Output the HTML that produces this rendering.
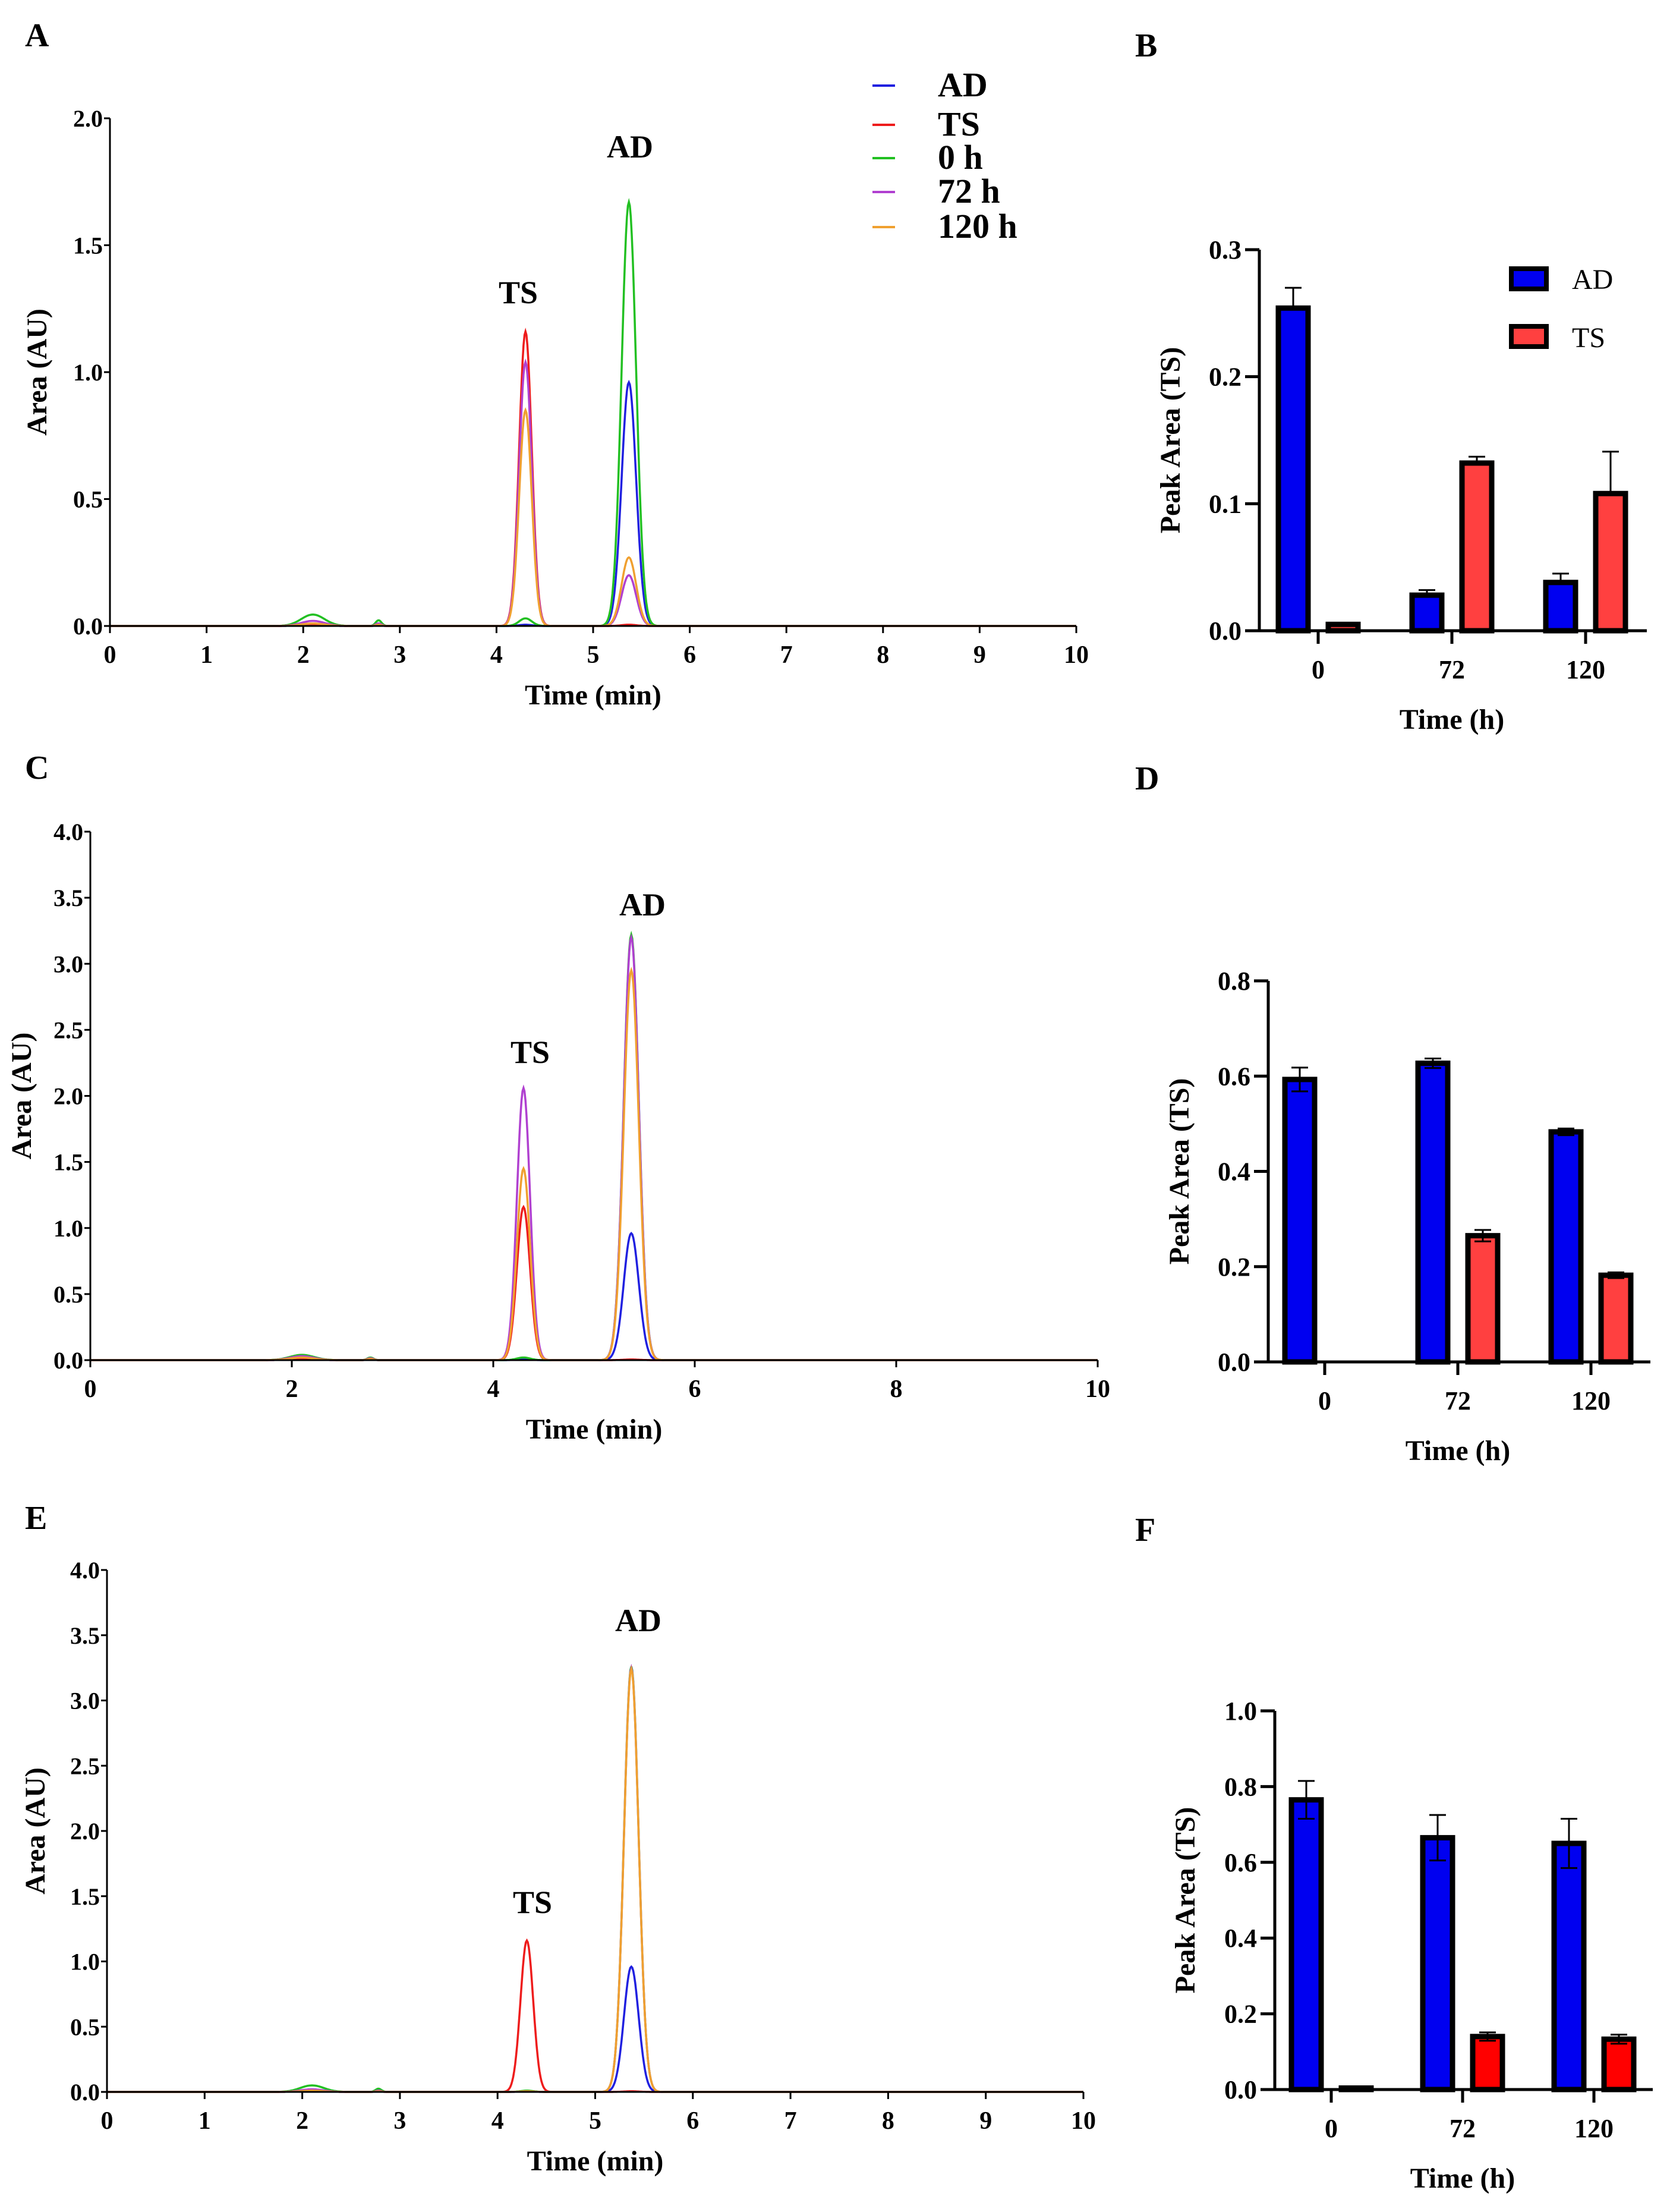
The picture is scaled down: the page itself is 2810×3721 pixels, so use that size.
<!DOCTYPE html>
<html><head><meta charset="utf-8"><style>
html,body{margin:0;padding:0;background:#fff}
svg{display:block}
text{font-family:"Liberation Serif",serif;font-weight:bold;fill:#000}
</style></head><body>
<svg id="fig" width="2810" height="3721" viewBox="0 0 2810 3721" xmlns="http://www.w3.org/2000/svg">
<text x="42" y="78" font-size="56">A</text>
<text x="1910" y="95" font-size="56">B</text>
<text x="42" y="1310" font-size="56">C</text>
<text x="1910" y="1328" font-size="56">D</text>
<text x="42" y="2572" font-size="56">E</text>
<text x="1910" y="2592" font-size="56">F</text>
</svg>
<script>
var NS="http://www.w3.org/2000/svg";
var svg=document.getElementById('fig');
function mk(tag,attrs,parent,txt){var e=document.createElementNS(NS,tag);for(var k in attrs)e.setAttribute(k,attrs[k]);if(txt!==undefined)e.textContent=txt;(parent||svg).appendChild(e);return e;}

// ---------- Chromatogram data ----------
var seriesNames=["AD","TS","0 h","72 h","120 h"];
var seriesColors=["#2020e0","#ee1c1c","#22c022","#b040d0","#f0a030"];
var aTS=[0.005,1.16,0.03,1.04,0.85];
var aAD=[0.96,0.005,1.67,0.20,0.27];
var aBump=[0.005,0.005,0.045,0.02,0.01];
var cTS=[0.005,1.16,0.02,2.06,1.45];
var cAD=[0.96,0.005,3.22,3.20,2.95];
var cBump=[0.01,0.01,0.04,0.03,0.02];
var eTS=[0.005,1.16,0.01,0.005,0.005];
var eAD=[0.96,0.005,3.26,3.25,3.24];
var eBump=[0.01,0.01,0.05,0.02,0.01];
var aTicksX=[0,1,2,3,4,5,6,7,8,9,10];
var cTicksX=[0,2,4,6,8,10];
var aTicksY=[0,0.5,1.0,1.5,2.0];
var cTicksY=[0,0.5,1.0,1.5,2.0,2.5,3.0,3.5,4.0];

function chrom(p){
  var g=mk('g',{});
  
  
  function X(t){return p.x0+(p.x1-p.x0)*t/10;}
  function Y(v){return p.y0-(p.y0-p.y1)*v/p.ymax;}
  for(var s=0;s<5;s++){
    var d="";
    for(var i=0;i<=1000;i++){
      var t=i*0.01;
      var v=p.ts[s]*Math.exp(-Math.pow((t-4.3)/0.065,2)/2)+p.ad[s]*Math.exp(-Math.pow((t-5.37)/0.075,2)/2)+p.bump[s]*Math.exp(-Math.pow((t-2.1)/0.12,2)/2)+p.bump[s]*0.5*Math.exp(-Math.pow((t-2.78)/0.03,2)/2);
      d+=(i?"L":"M")+X(t).toFixed(1)+","+Y(v).toFixed(1);
    }
    var pth=mk('path',{d:d,fill:'none',stroke:seriesColors[s],'stroke-width':3.5},g);
    
    
  }
  var ax=mk('path',{d:'M'+p.x0+','+p.y1+'L'+p.x0+','+p.y0+'L'+p.x1+','+p.y0,fill:'none',stroke:'#000','stroke-width':3},g);
  
  
  p.tx.forEach(function(t){
    mk('line',{x1:X(t),x2:X(t),y1:p.y0,y2:p.y0+12,stroke:'#000','stroke-width':3},g);
    var tl=mk('text',{x:X(t),y:p.y0+62,'font-size':42,'text-anchor':'middle'},g,String(t));
    
    
  });
  p.ty.forEach(function(v){
    mk('line',{x1:p.x0-10,x2:p.x0,y1:Y(v),y2:Y(v),stroke:'#000','stroke-width':3},g);
    var tl=mk('text',{x:p.x0-12,y:Y(v)+14,'font-size':40,'text-anchor':'end'},g,v.toFixed(1));
    
    
  });
  var xt=mk('text',{x:(p.x0+p.x1)/2,y:p.y0+132,'font-size':48,'text-anchor':'middle'},g,'Time (min)');
  
  
  var yt=mk('text',{x:0,y:0,'font-size':48,'text-anchor':'middle',transform:'translate('+p.ylx+','+((p.y0+p.y1)/2)+') rotate(-90)'},g,'Area (AU)');
  
  
  var l1=mk('text',{x:p.tsl[0],y:p.tsl[1],'font-size':54,'text-anchor':'middle'},g,'TS');
  
  
  var l2=mk('text',{x:p.adl[0],y:p.adl[1],'font-size':54,'text-anchor':'middle'},g,'AD');
  
  
}
chrom({name:'chromatogram-a',x0:185,x1:1811,y0:1053,y1:199,ymax:2,ts:aTS,ad:aAD,bump:aBump,tx:aTicksX,ty:aTicksY,ylx:78,tsl:[872,510],adl:[1060,265]});
chrom({name:'chromatogram-c',x0:152,x1:1847,y0:2288,y1:1399,ymax:4,ts:cTS,ad:cAD,bump:cBump,tx:cTicksX,ty:cTicksY,ylx:52,tsl:[892,1788],adl:[1081,1540]});
chrom({name:'chromatogram-e',x0:180,x1:1823,y0:3519,y1:2641,ymax:4,ts:eTS,ad:eAD,bump:eBump,tx:aTicksX,ty:cTicksY,ylx:75,tsl:[896,3218],adl:[1074,2744]});

var leg=mk('g',{});


var legY=[162,228,284,341,400];
for(var s=0;s<5;s++){
  mk('line',{x1:1468,x2:1506,y1:legY[s]-18,y2:legY[s]-18,stroke:seriesColors[s],'stroke-width':4},leg);
  var lt=mk('text',{x:1578,y:legY[s],'font-size':58},leg,seriesNames[s]);
  
  
}

// ---------- Bar data ----------
var barCats=["0","72","120"];
var bAD=[0.254,0.028,0.038], bADerr=[0.016,0.004,0.007];
var bTS=[0.005,0.132,0.108], bTSerr=[0.001,0.005,0.033];
var dAD=[0.593,0.627,0.483], dADerr=[0.025,0.010,0.007];
var dTS=[0,0.265,0.182], dTSerr=[0,0.012,0.006];
var fAD=[0.765,0.665,0.650], fADerr=[0.050,0.060,0.065];
var fTS=[0.004,0.140,0.133], fTSerr=[0.001,0.011,0.012];
var bTicks=[0,0.1,0.2,0.3], dTicks=[0,0.2,0.4,0.6,0.8], fTicks=[0,0.2,0.4,0.6,0.8,1.0];

function bars(p){
  var g=mk('g',{});
  
  
  function Y(v){return p.y0-(p.y0-p.y1)*v/p.ymax;}
  function X(i){return p.c0+i*p.step;}
  var series=[[p.ad,p.aderr,'#0000f0',-42],[p.ts,p.tserr,p.red,42]];
  series.forEach(function(sr,si){
    for(var i=0;i<3;i++){
      var v=sr[0][i]; if(v<=0)continue;
      var cx=X(i)+sr[3], top=Y(v);
      var r=mk('rect',{x:cx-25,y:top,width:50,height:p.y0-top,fill:sr[2],stroke:'#000','stroke-width':9},g);
      
      
      var e=sr[1][i]; if(e<=0)continue;
      var et=Y(v+e), eb=p.both?Y(v-e):top;
      var el=mk('path',{d:'M'+cx+','+eb+'L'+cx+','+et+'M'+(cx-14)+','+et+'L'+(cx+14)+','+et+(p.both?'M'+(cx-14)+','+eb+'L'+(cx+14)+','+eb:''),stroke:'#000','stroke-width':3,fill:'none'},g);
      
      
    }
  });
  var ax=mk('path',{d:'M'+p.x0+','+p.y1+'L'+p.x0+','+p.y0+'L'+p.x1+','+p.y0,fill:'none',stroke:'#000','stroke-width':5},g);
  
  
  p.ticks.forEach(function(v){
    mk('line',{x1:p.x0-24,x2:p.x0,y1:Y(v),y2:Y(v),stroke:'#000','stroke-width':5},g);
    var t=mk('text',{x:p.x0-30,y:Y(v)+15,'font-size':44,'text-anchor':'end'},g,v.toFixed(1));
    
    
  });
  barCats.forEach(function(c,i){
    mk('line',{x1:X(i),x2:X(i),y1:p.y0,y2:p.y0+22,stroke:'#000','stroke-width':5},g);
    var t=mk('text',{x:X(i),y:p.y0+80,'font-size':44,'text-anchor':'middle'},g,c);
    
    
  });
  var xt=mk('text',{x:X(1),y:p.y0+165,'font-size':48,'text-anchor':'middle'},g,'Time (h)');
  
  
  var yt=mk('text',{x:0,y:0,'font-size':48,'text-anchor':'middle',transform:'translate('+p.ylx+','+((p.y0+p.y1)/2)+') rotate(-90)'},g,'Peak Area (TS)');
  
  
}
bars({name:'bar-chart-b',x0:2119,x1:2771,y0:1061,y1:420,ymax:0.3,c0:2218,step:225,ad:bAD,aderr:bADerr,ts:bTS,tserr:bTSerr,red:'#ff4040',ticks:bTicks,both:false,ylx:1985});
bars({name:'bar-chart-d',x0:2134,x1:2777,y0:2291,y1:1650,ymax:0.8,c0:2229,step:224,ad:dAD,aderr:dADerr,ts:dTS,tserr:dTSerr,red:'#ff4040',ticks:dTicks,both:true,ylx:2000});
bars({name:'bar-chart-f',x0:2145,x1:2781,y0:3515,y1:2878,ymax:1.0,c0:2240,step:221,ad:fAD,aderr:fADerr,ts:fTS,tserr:fTSerr,red:'#ff0000',ticks:fTicks,both:true,ylx:2010});

var lb=mk('g',{});


mk('rect',{x:2543,y:452,width:59,height:34,fill:'#0000f0',stroke:'#000','stroke-width':8},lb);
mk('rect',{x:2543,y:549,width:59,height:34,fill:'#ff4040',stroke:'#000','stroke-width':8},lb);
var la=mk('text',{x:2645,y:486,'font-size':48,style:'font-weight:normal'},lb,'AD');


var lt2=mk('text',{x:2645,y:584,'font-size':48,style:'font-weight:normal'},lb,'TS');


</script>
</body></html>
